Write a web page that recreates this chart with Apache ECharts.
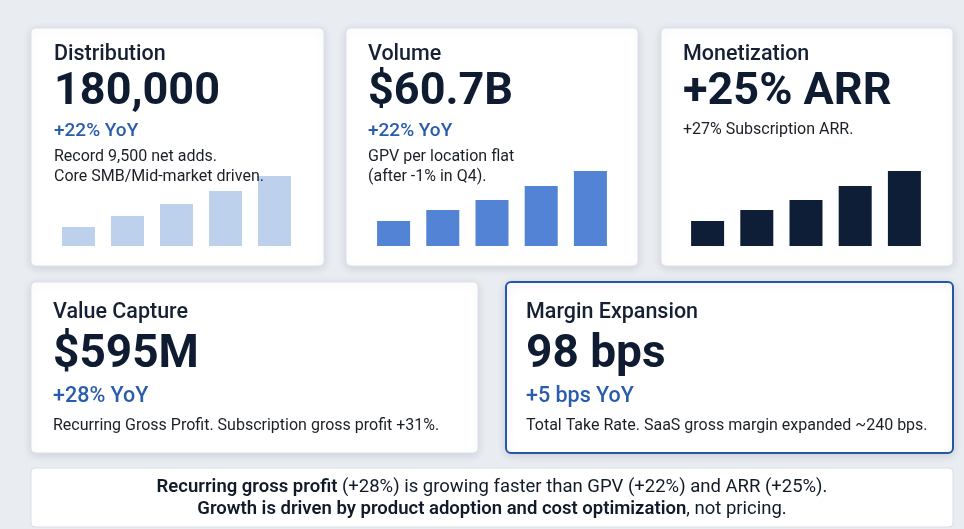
<!DOCTYPE html>
<html>
<head>
<meta charset="utf-8">
<script src="https://cdn.jsdelivr.net/npm/echarts@6/dist/echarts.min.js"></script>
<style>
  html, body { margin: 0; padding: 0; background: #e9edf2; }
  #main { width: 964px; height: 529px; }
</style>
</head>
<body>
<div id="main"></div>
<script>
// 迷你柱狀圖資料（相對高度）
const periods = ['P1', 'P2', 'P3', 'P4', 'P5'];
const distributionBars = [19, 30, 42, 55, 70];
const volumeBars = [25, 36, 46, 60, 75];
const arrBars = [25, 36, 46, 60, 75];

// 卡片文字
const cardTitles = ['Distribution', 'Volume', 'Monetization', 'Value Capture', 'Margin Expansion'];
const cardValues = ['180,000', '$60.7B', '+25% ARR', '$595M', '98 bps'];
const cardGrowth = ['+22% YoY', '+22% YoY', '', '+28% YoY', '+5 bps YoY'];
const cardNotes = [
  ['Record 9,500 net adds.', 'Core SMB/Mid-market driven.'],
  ['GPV per location flat', '(after -1% in Q4).'],
  ['+27% Subscription ARR.'],
  ['Recurring Gross Profit. Subscription gross profit +31%.'],
  ['Total Take Rate. SaaS gross margin expanded ~240 bps.']
];

const FONT = 'Roboto, "Noto Sans", sans-serif';
const chart = echarts.init(document.getElementById('main'), null, { renderer: 'canvas' });

// 卡片框
const boxes = [
  { x: 31, y: 28, w: 293, h: 238 },
  { x: 346, y: 28, w: 292, h: 238 },
  { x: 661, y: 28, w: 292, h: 238 },
  { x: 31, y: 282, w: 447, h: 171 },
  { x: 506, y: 282, w: 447, h: 171 }
];

function cardRect(b, highlight) {
  return {
    type: 'rect',
    z: 0,
    shape: { x: b.x, y: b.y, width: b.w, height: b.h, r: 5 },
    style: {
      fill: '#ffffff',
      stroke: highlight ? '#2457a5' : '#dde2e8',
      lineWidth: highlight ? 2 : 1,
      shadowBlur: 8,
      shadowOffsetY: 2,
      shadowColor: 'rgba(20,30,50,0.13)'
    }
  };
}

// 文字放在柱子上層
function txt(x, y, text, size, weight, color) {
  return {
    type: 'text',
    z: 30,
    style: {
      x: x, y: y, text: text,
      font: weight + ' ' + size + 'px ' + FONT,
      fill: color,
      verticalAlign: 'middle'
    }
  };
}

const graphics = [];
boxes.forEach((b, i) => graphics.push(cardRect(b, i === 4)));

// 上排卡片
const topX = [54, 368, 683];
[0, 1, 2].forEach((i) => {
  const x = topX[i];
  graphics.push(txt(x, 55, cardTitles[i], 21.5, 500, '#152033'));
  graphics.push(txt(x, 93, cardValues[i], 45, 700, '#0e1b30'));
  if (cardGrowth[i]) {
    graphics.push(txt(x, 131, cardGrowth[i], 19, 500, '#2a5cac'));
    cardNotes[i].forEach((n, k) => graphics.push(txt(x, 157 + k * 19.5, n, 16, 400, '#1b1f26')));
  } else {
    cardNotes[i].forEach((n, k) => graphics.push(txt(x, 130 + k * 19.5, n, 16, 400, '#1b1f26')));
  }
});

// 下排卡片
const botX = [53, 526];
[3, 4].forEach((i, j) => {
  const x = botX[j];
  graphics.push(txt(x, 313, cardTitles[i], 21.5, 500, '#152033'));
  graphics.push(txt(x, 355, cardValues[i], 46, 700, '#0e1b30'));
  graphics.push(txt(x, 397, cardGrowth[i], 21.5, 500, '#2a5cac'));
  graphics.push(txt(x, 426, cardNotes[i][0], 16, 400, '#1b1f26'));
});

// 結論框
graphics.push({
  type: 'rect',
  z: 0,
  shape: { x: 31, y: 468, width: 922, height: 59, r: 4 },
  style: { fill: '#ffffff', stroke: '#d9dee5', lineWidth: 1 }
});
graphics.push({
  type: 'text',
  z: 30,
  style: {
    x: 492, y: 498,
    align: 'center',
    verticalAlign: 'middle',
    text: '{b|Recurring gross profit}{r| (+28%) is growing faster than GPV (+22%) and ARR (+25%).}\n' +
          '{b|Growth is driven by product adoption and cost optimization}{r|, not pricing.}',
    rich: {
      b: { font: '600 18.5px ' + FONT, fill: '#111a28', lineHeight: 22 },
      r: { font: '400 18.5px ' + FONT, fill: '#111a28', lineHeight: 22 }
    }
  }
});

// 三個迷你柱狀圖的座標區
const grids = [
  { left: 54, width: 245, top: 166, height: 80 },
  { left: 369, width: 246, top: 166, height: 80 },
  { left: 683, width: 246, top: 166, height: 80 }
];
const barData = [distributionBars, volumeBars, arrBars];
const barColors = ['#bdd1ec', '#5283d4', '#0f1e37'];

const option = {
  backgroundColor: '#e9edf2',
  animation: false,
  graphic: graphics,
  grid: grids,
  xAxis: grids.map((g, i) => ({
    type: 'category', gridIndex: i, data: periods, show: false
  })),
  yAxis: grids.map((g, i) => ({
    type: 'value', gridIndex: i, min: 0, max: 80, show: false
  })),
  series: barData.map((d, i) => ({
    type: 'bar',
    xAxisIndex: i,
    yAxisIndex: i,
    data: d,
    barWidth: 33,
    z: 5,
    itemStyle: { color: barColors[i] }
  }))
};

chart.setOption(option);
</script>
</body>
</html>
